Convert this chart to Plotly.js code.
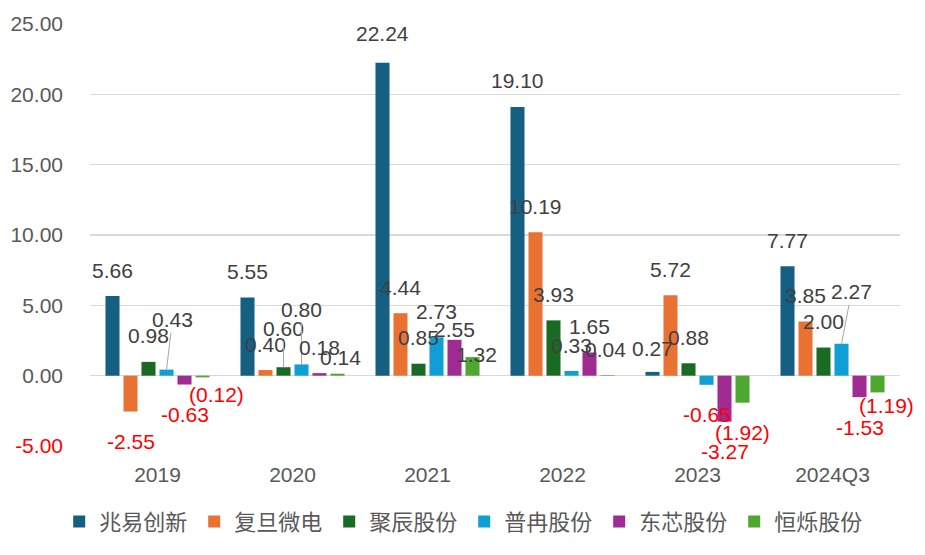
<!DOCTYPE html>
<html>
<head>
<meta charset="utf-8">
<script src="https://cdn.plot.ly/plotly-3.0.1.min.js"></script>
<style>
  html, body { margin: 0; padding: 0; background: #fff; }
  #chart { width: 925px; height: 555px; }
</style>
</head>
<body>
<div id="chart"></div>
<script>
// data
var years = ["2019", "2020", "2021", "2022", "2023", "2024Q3"];
var companies = ["兆易创新", "复旦微电", "聚辰股份", "普冉股份", "东芯股份", "恒烁股份"];
var zhaoyi = [5.66, 5.55, 22.24, 19.10, 0.27, 7.77];
var fudan = [-2.55, 0.40, 4.44, 10.19, 5.72, 3.85];
var juchen = [0.98, 0.60, 0.85, 3.93, 0.88, 2.00];
var puran = [0.43, 0.80, 2.73, 0.33, -0.65, 2.27];
var dongxin = [-0.63, 0.18, 2.55, 1.65, -3.27, -1.53];
var hengshuo = [-0.12, 0.14, 1.32, 0.04, -1.92, -1.19];
var yTicks = [-5, 0, 5, 10, 15, 20, 25];

var series = [zhaoyi, fudan, juchen, puran, dongxin, hengshuo];
var colors = ["#156082", "#E97132", "#196B24", "#0F9ED5", "#A02B93", "#4EA72E"];
var paren = [false, false, false, false, false, true]; // 恒烁 negatives shown as (x.xx)
var FONT = "Liberation Sans, Arial, Noto Sans CJK SC, sans-serif";

// label nudges in px [dx, dy] keyed "series,year"; leader-line labels get [ax, ay]
var nudge = {
  "5,0": [14, -13], "5,1": [3, 10], "0,2": [0, -3], "4,2": [0, 16], "5,2": [4, 23],
  "5,3": [-2, 0], "0,4": [0, 3], "5,5": [9, -17]
};
var leader = { "3,0": [6, -50], "2,1": [0, -39], "3,1": [0, -55], "3,5": [10, -52] };
var slot = 18; // px between bars in a group

function fmt(v, p) {
  if (v < 0) return p ? "(" + Math.abs(v).toFixed(2) + ")" : "-" + Math.abs(v).toFixed(2);
  return v.toFixed(2);
}

var data = [];
var annotations = [];
series.forEach(function (vals, j) {
  data.push({
    type: "bar",
    name: companies[j],
    x: years,
    y: vals,
    marker: { color: colors[j] },
    hoverinfo: "x+y+name"
  });
  vals.forEach(function (v, i) {
    var key = j + "," + i;
    var a = {
      x: i, y: v, xref: "x", yref: "y",
      text: fmt(v, paren[j]),
      font: { family: FONT, size: 21, color: v < 0 ? "#FF0000" : "#404040" },
      xanchor: "center", yanchor: "middle",
      xshift: (j - 2.5) * slot
    };
    if (leader[key]) {
      a.showarrow = true;
      a.ax = leader[key][0];
      a.ay = leader[key][1];
      a.arrowhead = 0;
      a.arrowwidth = 1;
      a.arrowcolor = "#A6A6A6";
      a.standoff = 0;
    } else {
      var n = nudge[key] || [0, 0];
      var dy = (v < 0 ? 30 : -26) + n[1];
      a.showarrow = false;
      a.xshift += n[0];
      a.yshift = -dy;
    }
    annotations.push(a);
  });
});

var tickText = yTicks.map(function (t) {
  var s = t.toFixed(2);
  return t < 0 ? '<span style="color:#FF0000">' + s + '</span>' : s;
});

var layout = {
  width: 925,
  height: 555,
  margin: { l: 90, r: 25, t: 24, b: 109 },
  paper_bgcolor: "#FFFFFF",
  plot_bgcolor: "#FFFFFF",
  font: { family: FONT, size: 21, color: "#595959" },
  barmode: "group",
  bargap: 0.2,
  bargroupgap: 0.22,
  xaxis: {
    type: "category",
    range: [-0.5, years.length - 0.5],
    autorange: false,
    showgrid: false,
    showline: false,
    zeroline: false,
    ticks: "",
    ticklabelstandoff: 14,
    tickfont: { family: FONT, size: 21, color: "#595959" }
  },
  yaxis: {
    range: [-5, 25],
    autorange: false,
    tickvals: yTicks,
    ticktext: tickText,
    showgrid: true,
    gridcolor: "#D9D9D9",
    gridwidth: 1.5,
    zeroline: true,
    zerolinecolor: "#D9D9D9",
    zerolinewidth: 1.5,
    showline: false,
    ticks: "",
    ticklabelstandoff: 26,
    tickfont: { family: FONT, size: 21, color: "#595959" }
  },
  showlegend: true,
  legend: {
    orientation: "h",
    xref: "container",
    yref: "container",
    x: 0.064,
    xanchor: "left",
    y: 0.06,
    yanchor: "middle",
    entrywidth: 90,
    font: { family: FONT, size: 22, color: "#595959" },
    traceorder: "normal"
  },
  annotations: annotations
};

Plotly.newPlot("chart", data, layout, { displayModeBar: false, staticPlot: true });
</script>
</body>
</html>
